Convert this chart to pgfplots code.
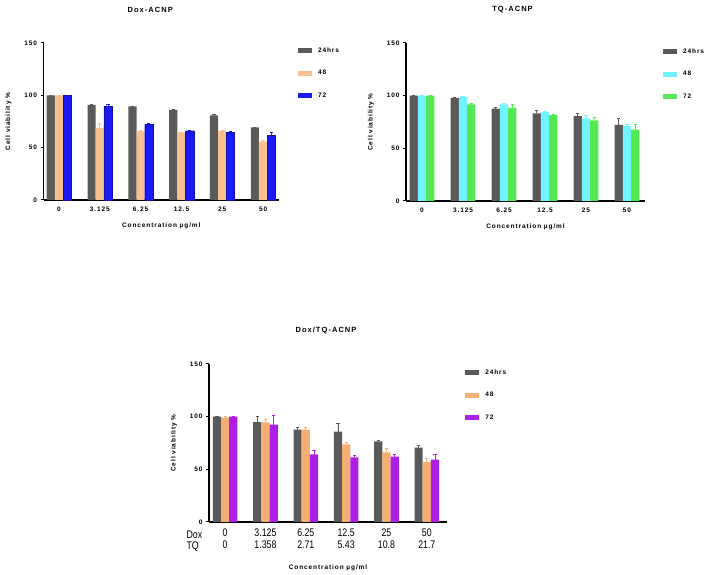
\documentclass[border=0pt]{standalone}
\usepackage{fontspec}
\setmainfont{Liberation Sans}
\newfontfamily\gp{Liberation Sans}[LetterSpace=14]
\newfontfamily\narrow{Liberation Sans}[FakeStretch=0.8]
\usepackage{pgfplots}
\pgfplotsset{compat=1.18}

\definecolor{dgray}{HTML}{5A5A5A}
\definecolor{peach}{HTML}{F9C08F}
\definecolor{peachb}{HTML}{F5AE72}
\definecolor{vblue}{HTML}{1A1AF5}
\definecolor{vcyan}{HTML}{70F4FF}
\definecolor{vgreen}{HTML}{55E855}
\definecolor{vpurple}{HTML}{AE1FE6}

\pgfplotsset{
  gp/.style={
    scale only axis, anchor=south west, clip=false,
    axis x line*=bottom, axis y line*=left,
    axis line style={line width=1.2pt,-},
    xmin=-0.39, xmax=5.42,
    ymin=0, ymax=150, ytick={0,50,100,150},
    xtick={0,...,5},
    tick align=outside, major tick length=3pt,
    xtick style={draw=none}, ytick style={line width=1pt, black},
    ybar=0pt, bar width=8.2pt,
    /pgf/number format/assume math mode=true,
    tick label style={font=\gp\bfseries\fontsize{6.5}{7}\selectfont},
    every axis y label/.style={at={(rel axis cs:0,0.5)}, xshift=-35pt, rotate=90, anchor=center,
      font=\gp\bfseries\fontsize{6.5}{8}\selectfont},
    every axis x label/.style={at={(rel axis cs:0.5,0)}, yshift=-26pt, anchor=center,
      font=\gp\bfseries\fontsize{6.5}{8}\selectfont},
    xlabel={Concentration µg/ml}, ylabel={Cell viability \%},
    title style={font=\gp\bfseries\fontsize{7.5}{8}\selectfont, anchor=center, at={(rel axis cs:0.5,1)}, yshift=27pt},
    legend style={draw=none, fill=none, anchor=north west, inner sep=0pt,
      font=\gp\bfseries\fontsize{6.5}{7}\selectfont, row sep=12.5pt,
      /tikz/every odd column/.append style={column sep=4pt}},
    legend cell align=left,
    legend image code/.code={\fill[##1,draw=none] (0pt,-2.5pt) rectangle (14pt,2.5pt);},
    error bars/y dir=plus, error bars/y explicit,
    error bars/error mark options={line width=0.7pt, mark size=1.6pt, rotate=90},
  },
}

\begin{document}
\begin{tikzpicture}
\useasboundingbox (0,0) rectangle (709pt,575pt);

% Dox-ACNP
\begin{axis}[gp, at={(43.5pt,375pt)}, width=235.5pt, height=157pt,
  xmin=-0.38, xmax=5.39,
  xticklabels={0,3.125,6.25,12.5,25,50},
  title={Dox-ACNP}, title style={xshift=-11pt},
  legend style={at={(rel axis cs:1.08,0.985)}}]
\addplot[fill=dgray, draw=none, error bars/error bar style={dgray, line width=0.7pt}] coordinates {
  (0,100) +- (0,0) (1,90.8) +- (0,0.5) (2,89.4) +- (0,0.5) (3,86.0) +- (0,0.4) (4,80.8) +- (0,0.6) (5,69.3) +- (0,0.4)};
\addplot[fill=peach, draw=none, error bars/error bar style={peach, line width=0.7pt}] coordinates {
  (0,100) +- (0,0) (1,68.6) +- (0,4.5) (2,65.8) +- (0,0.5) (3,64.5) +- (0,0.5) (4,66.1) +- (0,0.5) (5,55.8) +- (0,1.0)};
\addplot[fill=vblue, draw=vblue!70!black, line width=0.3pt, error bars/error bar style={vblue, line width=0.7pt}] coordinates {
  (0,100) +- (0,0) (1,89.8) +- (0,1.2) (2,72.5) +- (0,0.8) (3,66.2) +- (0,0.8) (4,64.6) +- (0,1.3) (5,62.0) +- (0,3.0)};
\legend{24hrs,48,72}
\end{axis}

% TQ-ACNP
\begin{axis}[gp, at={(406pt,374pt)}, width=239pt, height=158pt,
  xmin=-0.39, xmax=5.44,
  xticklabels={0,3.125,6.25,12.5,25,50},
  title={TQ-ACNP}, title style={xshift=-13pt},
  legend style={at={(rel axis cs:1.075,0.98)}}]
\addplot[fill=dgray, draw=none, error bars/error bar style={dgray, line width=0.7pt}] coordinates {
  (0,100) +- (0,0) (1,97.9) +- (0,0.6) (2,87.6) +- (0,1.5) (3,83.3) +- (0,2.6) (4,80.5) +- (0,2.3) (5,72.3) +- (0,6.0)};
\addplot[fill=vcyan, draw=none, error bars/error bar style={vcyan, line width=0.7pt}] coordinates {
  (0,100) +- (0,0) (1,98.8) +- (0,0.5) (2,91.8) +- (0,0.8) (3,84.4) +- (0,0.8) (4,78.2) +- (0,3.0) (5,71.4) +- (0,1.6)};
\addplot[fill=vgreen, draw=none, error bars/error bar style={vgreen, line width=0.7pt}] coordinates {
  (0,100) +- (0,0) (1,91.8) +- (0,0.6) (2,88.3) +- (0,3.8) (3,81.5) +- (0,0.8) (4,76.6) +- (0,2.4) (5,67.8) +- (0,5.0)};
\legend{24hrs,48,72}
\end{axis}

% Dox/TQ-ACNP
\begin{axis}[gp, at={(209pt,53pt)}, width=238pt, height=158pt,
  xmin=-0.40, xmax=5.5,
  xticklabels={{0\\0},{3.125\\1.358},{6.25\\2.71},{12.5\\5.43},{25\\10.8},{50\\21.7}},
  x tick label style={align=center, font=\narrow\fontsize{11}{11.5}\selectfont, inner sep=1pt, yshift=-3pt},
  every axis x label/.append style={yshift=-20pt},
  title={Dox/TQ-ACNP}, title style={xshift=-2pt},
  legend style={at={(rel axis cs:1.076,0.98)}}]
\addplot[fill=dgray, draw=none, error bars/error bar style={dgray, line width=0.7pt}] coordinates {
  (0,100) +- (0,0) (1,94.9) +- (0,5.8) (2,87.7) +- (0,2.5) (3,85.8) +- (0,7.5) (4,76.6) +- (0,0.9) (5,70.7) +- (0,2.2)};
\addplot[fill=peachb, draw=none, error bars/error bar style={peachb, line width=0.7pt}] coordinates {
  (0,99.2) +- (0,0.8) (1,94.6) +- (0,3.3) (2,87.7) +- (0,2.6) (3,73.7) +- (0,1.5) (4,66.1) +- (0,4.2) (5,57.0) +- (0,3.0)};
\addplot[fill=vpurple, draw=none, error bars/error bar style={vpurple, line width=0.7pt}] coordinates {
  (0,100) +- (0,0) (1,92.4) +- (0,8.4) (2,64.2) +- (0,3.5) (3,61.4) +- (0,1.8) (4,62.0) +- (0,2.0) (5,59.2) +- (0,5.0)};
\legend{24hrs,48,72}
\end{axis}

\node[anchor=west, font=\narrow\fontsize{11}{11.5}\selectfont] at (183pt,40pt) {Dox};
\node[anchor=west, font=\narrow\fontsize{11}{11.5}\selectfont] at (183pt,28pt) {TQ};
\end{tikzpicture}
\end{document}
